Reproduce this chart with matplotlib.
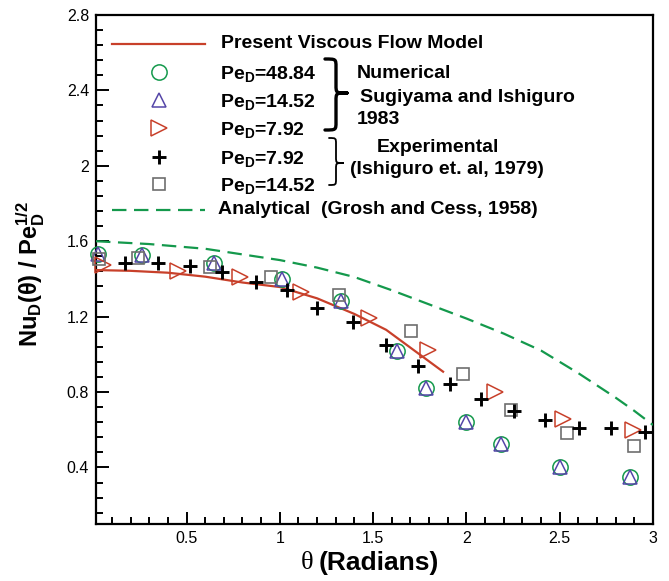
import matplotlib
matplotlib.use("Agg")
import matplotlib.pyplot as plt
from matplotlib.path import Path
from matplotlib.patches import PathPatch
from matplotlib.ticker import MultipleLocator

plt.rcParams['font.family'] = ['Liberation Sans', 'DejaVu Sans']
plt.rcParams['mathtext.fontset'] = 'custom'
plt.rcParams['mathtext.rm'] = 'Liberation Sans'
plt.rcParams['mathtext.bf'] = 'Liberation Sans:bold'
plt.rcParams['mathtext.it'] = 'Liberation Sans:italic'
plt.rcParams['mathtext.sf'] = 'Liberation Sans'

# ---------------- data ----------------
# Present viscous flow model
model_theta = [0.015, 0.2, 0.4, 0.6, 0.8, 1.0, 1.2, 1.4, 1.57, 1.875]
model_nu = [1.447, 1.443, 1.433, 1.412, 1.381, 1.357, 1.297, 1.214, 1.130, 0.908]

# Analytical (Grosh and Cess, 1958)
anal_theta = [0.015, 0.3, 0.6, 0.8, 1.0, 1.2, 1.4, 1.6, 1.8, 2.0, 2.2, 2.4, 2.6, 2.8, 2.9, 3.0]
anal_nu = [1.60, 1.585, 1.56, 1.53, 1.50, 1.46, 1.41, 1.34, 1.265, 1.19, 1.11, 1.02, 0.90,
           0.77, 0.70, 0.625]

# Numerical, Sugiyama and Ishiguro 1983
num_theta = [0.027, 0.264, 0.646, 1.012, 1.327, 1.628, 1.786, 2.0, 2.188, 2.504, 2.875]
num_pe4884 = [1.532, 1.527, 1.483, 1.398, 1.283, 1.018, 0.823, 0.642, 0.524, 0.400, 0.351]
num_pe1452 = [1.532, 1.527, 1.483, 1.398, 1.283, 1.018, 0.823, 0.642, 0.524, 0.400, 0.351]

num792_theta = [0.05, 0.452, 0.786, 1.111, 1.477, 1.795, 2.152, 2.518, 2.893]
num792_nu = [1.474, 1.444, 1.412, 1.329, 1.191, 1.023, 0.802, 0.657, 0.598]

# Experimental (Ishiguro et al., 1979)
exp792_theta = [0.170, 0.346, 0.518, 0.688, 0.871, 1.039, 1.200, 1.393, 1.568, 1.741,
                1.911, 2.077, 2.255, 2.423, 2.603, 2.773, 2.959]
exp792_nu = [1.486, 1.484, 1.468, 1.438, 1.385, 1.341, 1.247, 1.170, 1.049, 0.940,
             0.841, 0.761, 0.699, 0.651, 0.607, 0.607, 0.589]

exp1452_theta = [0.03, 0.239, 0.625, 0.955, 1.316, 1.705, 1.982, 2.241, 2.539, 2.896]
exp1452_nu = [1.505, 1.511, 1.465, 1.412, 1.315, 1.125, 0.894, 0.705, 0.584, 0.514]

x_ticks = [0.5, 1, 1.5, 2, 2.5, 3]
x_tick_labels = ['0.5', '1', '1.5', '2', '2.5', '3']
y_ticks = [0.4, 0.8, 1.2, 1.6, 2.0, 2.4, 2.8]
y_tick_labels = ['0.4', '0.8', '1.2', '1.6', '2', '2.4', '2.8']

legend_labels = ['Present Viscous Flow Model',
                 r'Pe$_{\mathbf{D}}$=48.84',
                 r'Pe$_{\mathbf{D}}$=14.52',
                 r'Pe$_{\mathbf{D}}$=7.92',
                 r'Pe$_{\mathbf{D}}$=7.92',
                 r'Pe$_{\mathbf{D}}$=14.52',
                 'Analytical  (Grosh and Cess, 1958)']

# ---------------- styles ----------------
RED = '#c8402a'
GREEN = '#14994c'
BLUE = '#5546a8'
GRAY = '#6e6e6e'

W, H = 669, 581
fig = plt.figure(figsize=(W / 100, H / 100), dpi=100)
L, R, T, B = 96, 653, 15, 524
ax = fig.add_axes([L / W, 1 - B / H, (R - L) / W, (B - T) / H])

ax.plot(model_theta, model_nu, color=RED, lw=1.6, zorder=3)
ax.plot(anal_theta, anal_nu, color=GREEN, lw=1.6, dashes=(6.5, 3.4), zorder=3)
ax.plot(num_theta, num_pe4884, ls='none', marker='o', ms=11, mfc='none', mec=GREEN, mew=1.1,
        clip_on=False, zorder=4)
ax.plot(num_theta, num_pe1452, ls='none', marker='^', ms=10, mfc='none', mec=BLUE, mew=1.1,
        clip_on=False, zorder=4)
ax.plot(num792_theta, num792_nu, ls='none', marker='>', ms=11, mfc='none', mec=RED, mew=1.1,
        clip_on=False, zorder=4)
ax.plot(exp1452_theta, exp1452_nu, ls='none', marker='s', ms=9, mfc='none', mec=GRAY, mew=1.2,
        clip_on=False, zorder=4)
ax.plot(exp792_theta, exp792_nu, ls='none', marker='+', ms=10, mec='black', mew=2.1,
        clip_on=False, zorder=5)

ax.set_xlim(0.015, 3.0)
ax.set_ylim(0.1, 2.8)
ax.set_xticks(x_ticks)
ax.set_xticklabels(x_tick_labels)
ax.set_yticks(y_ticks)
ax.set_yticklabels(y_tick_labels)
ax.xaxis.set_minor_locator(MultipleLocator(0.1))
ax.yaxis.set_minor_locator(MultipleLocator(0.08))
ax.tick_params(which='both', direction='in', top=False, right=False, labelsize=11.5,
               width=1.4, pad=5)
ax.tick_params(which='major', length=9)
ax.tick_params(which='minor', length=5)
for s in ax.spines.values():
    s.set_linewidth(1.6)

# ---------------- overlay (pixel coords) ----------------
ov = fig.add_axes([0, 0, 1, 1])
ov.set_xlim(0, W)
ov.set_ylim(H, 0)
ov.axis('off')
ov.patch.set_alpha(0)

FS = 14
ov.plot([112, 205], [44, 44], color=RED, lw=1.6)
ov.text(221, 44, legend_labels[0], fontsize=FS, fontweight='bold', va='center', ha='left')

mk_y = [72, 100, 128, 157, 184]
ov.plot([159], [mk_y[0]], marker='o', ms=11, mfc='none', mec=GREEN, mew=1.1)
ov.plot([159], [mk_y[1]], marker='^', ms=10, mfc='none', mec=BLUE, mew=1.1)
ov.plot([159], [mk_y[2]], marker='>', ms=11, mfc='none', mec=RED, mew=1.1)
ov.plot([159], [mk_y[3]], marker='+', ms=10, mec='black', mew=2.1)
ov.plot([159], [mk_y[4]], marker='s', ms=9, mfc='none', mec=GRAY, mew=1.2)
for yy, lab in zip(mk_y, legend_labels[1:6]):
    ov.text(220, yy + 2, lab, fontsize=FS, fontweight='bold', va='center', ha='left')

ov.plot([112, 205], [210, 210], color=GREEN, lw=1.6, dashes=(6.5, 3.4))
ov.text(218, 210, legend_labels[6], fontsize=FS, fontweight='bold', va='center', ha='left')


def brace(x0, y0, y1, w, ym, lw, r=7):
    xm = x0 + w * 0.5
    verts = [(x0, y0), (xm, y0), (xm, y0), (xm, y0 + r),
             (xm, ym - r),
             (xm, ym), (xm, ym), (x0 + w, ym),
             (xm, ym), (xm, ym), (xm, ym + r),
             (xm, y1 - r),
             (xm, y1), (xm, y1), (x0, y1)]
    codes = [Path.MOVETO, Path.CURVE4, Path.CURVE4, Path.CURVE4,
             Path.LINETO,
             Path.CURVE4, Path.CURVE4, Path.CURVE4,
             Path.CURVE4, Path.CURVE4, Path.CURVE4,
             Path.LINETO,
             Path.CURVE4, Path.CURVE4, Path.CURVE4]
    ov.add_patch(PathPatch(Path(verts, codes), fill=False, lw=lw, color='black',
                           capstyle='round', joinstyle='round'))


brace(325, 59, 130, 22, 93, 2.4, r=8)
brace(329, 138, 185, 14, 163, 1.3, r=6)

ov.text(357, 73, 'Numerical', fontsize=FS, fontweight='bold', va='center', ha='left')
ov.text(360, 97, 'Sugiyama and Ishiguro', fontsize=FS, fontweight='bold', va='center', ha='left')
ov.text(357, 120, '1983', fontsize=FS, fontweight='bold', va='center', ha='left')
ov.text(377, 147, 'Experimental', fontsize=FS, fontweight='bold', va='center', ha='left')
ov.text(350, 170, '(Ishiguro et. al, 1979)', fontsize=FS, fontweight='bold', va='center', ha='left')

# axis labels
ov.text(307, 563, 'θ', fontsize=19, family=['Liberation Serif', 'DejaVu Serif'],
        va='center', ha='center')
ov.text(319, 563, '(Radians)', fontsize=19, fontweight='bold', va='center', ha='left')
ov.text(31, 274, r'$\mathbf{Nu_{D}(\theta)\ /\ Pe_{D}^{1/2}}$', fontsize=17, rotation=90,
        va='center', ha='center')

fig.savefig('out.png', dpi=100)
